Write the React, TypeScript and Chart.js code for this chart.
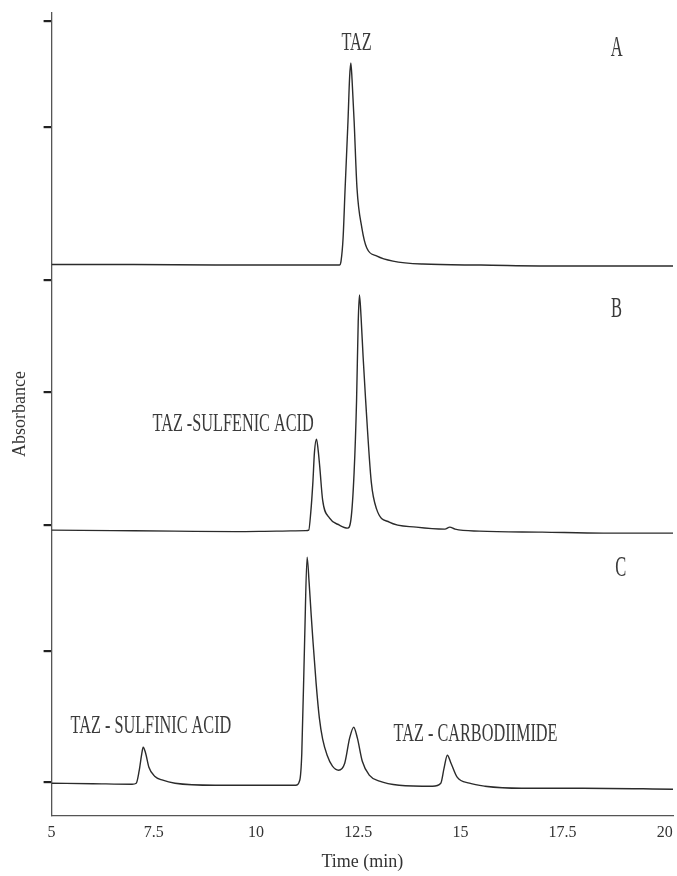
import React, { useEffect, useRef } from "react";
import { Chart, registerables } from "chart.js";

Chart.register(...registerables);

// ---------- data ----------
const xTickValues = [5, 7.5, 10, 12.5, 15, 17.5, 20];
// y tick marks (absorbance, arbitrary stacked units)
const yTickValues = [794, 688, 535, 423, 290, 164, 33];

// vertical offsets of the three stacked chromatograms
const offsetA = 550;
const offsetB = 283;
const offsetC = 32;

// Trace A
const timeA = [5, 7, 9, 11, 11.9, 12.04, 12.08, 12.13, 12.18, 12.25, 12.29, 12.32, 12.35, 12.4, 12.47, 12.59, 12.71, 12.96, 13.35, 14.08, 15.5, 17.5, 20.2];
const absA = [0.5, 0.5, 0, 0, 0, 0, 4, 27, 77, 144, 188, 202, 185, 144, 77, 37, 17, 9, 4, 1, 0, -1, -1];

// Trace B
const timeB = [5, 6.5, 8, 9.5, 10.5, 11.22, 11.29, 11.34, 11.39, 11.43, 11.48, 11.52, 11.56, 11.63, 11.8, 12.04, 12.24, 12.32, 12.4, 12.46, 12.5, 12.53, 12.57, 12.62, 12.68, 12.82, 12.95, 13.26, 13.92, 14.62, 14.74, 14.87, 15.46, 17, 18.5, 20.2];
const absB = [2, 1.5, 1, 0.5, 1, 1.5, 2, 20, 49, 80, 93, 82, 65, 32, 14, 7, 4, 12, 60, 132, 210, 237, 215, 175, 133, 50, 23, 10, 5, 3, 5, 3, 1, 0, -1, -1];

// Trace C
const timeC = [5, 6, 6.97, 7.07, 7.14, 7.2, 7.24, 7.3, 7.38, 7.52, 7.72, 8.02, 9, 10.5, 10.97, 11.07, 11.12, 11.19, 11.25, 11.3, 11.35, 11.39, 11.47, 11.55, 11.63, 11.74, 11.87, 12.02, 12.17, 12.29, 12.39, 12.48, 12.6, 12.77, 13.02, 13.5, 14.32, 14.52, 14.6, 14.68, 14.77, 14.92, 15.22, 15.6, 16.5, 18, 20.2];
const absC = [0, -0.5, -1, 0, 12, 28, 36, 30, 16, 7, 3, 0, -2, -2, -2, 3, 30, 144, 226, 200, 168, 144, 100, 65, 44, 28, 17, 13, 20, 45, 56, 45, 22, 8, 2, -2, -3, 0, 15, 28, 20, 6, 0, -3, -5, -5, -6];

// Peak annotations (anchored in data coordinates)
const peakLabelTexts = ["TAZ", "TAZ -SULFENIC ACID", "TAZ - SULFINIC ACID", "TAZ - CARBODIIMIDE"];
const peakLabelTimes = [12.46, 9.44, 7.43, 15.37];
const peakLabelValues = [773, 392, 90, 82];

// Panel letters
const panelTexts = ["A", "B", "C"];
const panelTimes = [18.82, 18.82, 18.92];
const panelValues = [769, 508, 249];

// ---------- helpers ----------
const toPoints = (t: number[], v: number[], off: number) =>
  t.map((x, i) => ({ x, y: v[i] + off }));

const SERIF = '"Liberation Serif", "Times New Roman", serif';
const INK = "#333333";

const drawSqueezed = (
  ctx: CanvasRenderingContext2D,
  text: string,
  px: number,
  py: number,
  size: number,
  squeeze: number
) => {
  ctx.save();
  ctx.translate(px, py);
  ctx.scale(squeeze, 1);
  ctx.font = `${size}px ${SERIF}`;
  ctx.fillStyle = "#3a3a3a";
  ctx.textAlign = "center";
  ctx.textBaseline = "alphabetic";
  ctx.fillText(text, 0, size * 0.33);
  ctx.restore();
};

const labelPlugin = {
  id: "chromLabels",
  afterDatasetsDraw(chart: any) {
    const { ctx, scales } = chart;
    const xs = scales.x;
    const ys = scales.y;
    peakLabelTexts.forEach((txt, i) => {
      drawSqueezed(ctx, txt, xs.getPixelForValue(peakLabelTimes[i]), ys.getPixelForValue(peakLabelValues[i]), 25, 0.65);
    });
    panelTexts.forEach((txt, i) => {
      drawSqueezed(ctx, txt, xs.getPixelForValue(panelTimes[i]), ys.getPixelForValue(panelValues[i]), 30, 0.55);
    });
  },
};

export default function App() {
  const ref = useRef<HTMLCanvasElement>(null);

  useEffect(() => {
    if (!ref.current) return;
    const lineStyle = {
      borderColor: "#2b2b2b",
      borderWidth: 1.4,
      pointRadius: 0,
      fill: false,
      cubicInterpolationMode: "monotone" as const,
    };
    const chart = new Chart(ref.current, {
      type: "line",
      data: {
        datasets: [
          { label: "A", data: toPoints(timeA, absA, offsetA), ...lineStyle },
          { label: "B", data: toPoints(timeB, absB, offsetB), ...lineStyle },
          { label: "C", data: toPoints(timeC, absC, offsetC), ...lineStyle },
        ],
      },
      options: {
        responsive: false,
        animation: false,
        layout: { autoPadding: false, padding: { left: 4, right: 4, top: 13, bottom: 0 } },
        plugins: {
          legend: { display: false },
          tooltip: { enabled: false },
        },
        scales: {
          x: {
            type: "linear",
            min: 5,
            max: 20.2,
            afterBuildTicks: (scale: any) => {
              scale.ticks = xTickValues.map((value) => ({ value }));
            },
            grid: { display: false },
            border: { display: true, color: "#555555", width: 1.3 },
            ticks: {
              color: INK,
              padding: 0,
              maxRotation: 0,
              autoSkip: false,
              font: { family: SERIF, size: 16 },
              callback: (v: any) => String(v),
            },
            title: {
              display: true,
              text: "Time (min)",
              color: INK,
              font: { family: SERIF, size: 18 },
              padding: { top: 9, bottom: 3 },
            },
          },
          y: {
            type: "linear",
            min: 0,
            max: 802,
            afterBuildTicks: (scale: any) => {
              scale.ticks = yTickValues.map((value) => ({ value }));
            },
            grid: {
              display: true,
              drawOnChartArea: false,
              drawTicks: true,
              tickLength: 8,
              color: "#222222",
              lineWidth: 2.2,
            },
            border: { display: true, color: "#555555", width: 1.3 },
            ticks: { display: false },
            title: {
              display: true,
              text: "Absorbance",
              color: INK,
              font: { family: SERIF, size: 18 },
              padding: { top: 5, bottom: 13 },
            },
          },
        },
      },
      plugins: [labelPlugin],
    });
    return () => chart.destroy();
  }, []);

  return (
    <div style={{ position: "absolute", left: 0, top: 0, width: 677, height: 876, background: "#ffffff" }}>
      <canvas ref={ref} width={677} height={876} style={{ display: "block", width: 677, height: 876 }} />
    </div>
  );
}
